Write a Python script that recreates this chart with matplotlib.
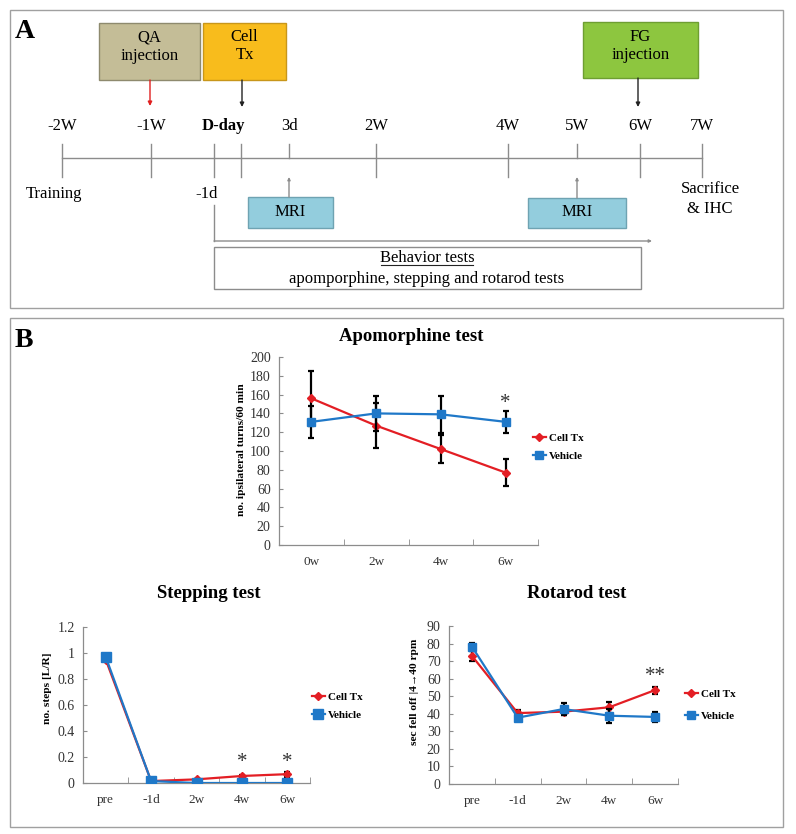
"""
Timeline diagram (A) and behaviour test line charts (B), Cell Tx vs Vehicle.
"""

import matplotlib
matplotlib.use("Agg")
import matplotlib.pyplot as plt
import numpy as np
from matplotlib.patches import Rectangle

plt.rcParams["font.family"] = ["Liberation Serif", "DejaVu Serif"]

W, H = 796, 834

# ── Data ──────────────────────────────────────────────────────────────────────
apo_labels = ["0w", "2w", "4w", "6w"]
apo_cell = [156, 127, 102, 77]
apo_cell_err = [29, 24, 15, 14]
apo_veh = [131, 140, 139, 131]
apo_veh_err = [17, 19, 20, 12]
apo_sig = ["", "", "", "*"]

step_labels = ["pre", "-1d", "2w", "4w", "6w"]
step_cell = [0.95, 0.015, 0.028, 0.054, 0.068]
step_cell_err = [0.01, 0.005, 0.005, 0.01, 0.02]
step_veh = [0.97, 0.015, 0.0, 0.0, 0.0]
step_veh_err = [0.01, 0.005, 0.0, 0.0, 0.0]
step_sig = ["", "", "", "*", "*"]

rota_labels = ["pre", "-1d", "2w", "4w", "6w"]
rota_cell = [73, 40.4, 41.2, 43.7, 53.5]
rota_cell_err = [3, 1.5, 2, 3, 2]
rota_veh = [78.3, 37.8, 42.7, 38.9, 38.2]
rota_veh_err = [2, 1.5, 3.5, 4, 3]
rota_sig = ["", "", "", "", "**"]

# timeline (panel A) — schematic, so laid out in pixel units
tl_labels = ["-2W", "-1W", "D-day", "3d", "2W", "4W", "5W", "6W", "7W"]
tl_label_x = [62, 151, 223, 289, 376, 508, 577, 640, 702]
tl_tick_x = [62, 151, 214, 241, 289, 376, 508, 577, 640, 702]

RED = "#E31E24"
BLUE = "#1F78C8"
GRID = "#8C8C8C"
FS = 12


def add_ax(fig, l, t, r, b):
    return fig.add_axes([l / W, 1 - b / H, (r - l) / W, (b - t) / H])


fig = plt.figure(figsize=(W / 100, H / 100), dpi=100)

# ── Panel A: overlay in pixel coords ─────────────────────────────────────────
ov = fig.add_axes([0, 0, 1, 1])
ov.set_xlim(0, W)
ov.set_ylim(H, 0)
ov.axis("off")

for (x0, y0, x1, y1) in [(10, 10, 783, 308), (10, 318, 783, 827)]:
    ov.add_patch(Rectangle((x0, y0), x1 - x0, y1 - y0, fill=False,
                           edgecolor="#A0A0A0", lw=1))
ov.text(15, 31, "A", fontsize=20, fontweight="bold", va="center")
ov.text(15, 340, "B", fontsize=20, fontweight="bold", va="center")

boxes = [
    (99, 23, 200, 80, "#C4BD97", "#8E8A6E", "QA\ninjection", 47),
    (203, 23, 286, 80, "#F8BC1C", "#C8961A", "Cell\nTx", 46),
    (583, 22, 698, 78, "#8DC63F", "#6E9E32", "FG\ninjection", 46),
    (248, 197, 333, 228, "#93CDDD", "#6FA3B2", "MRI", 212),
    (528, 198, 626, 228, "#93CDDD", "#6FA3B2", "MRI", 212),
]
for x0, y0, x1, y1, fc, ec, txt, ty in boxes:
    ov.add_patch(Rectangle((x0, y0), x1 - x0, y1 - y0, facecolor=fc,
                           edgecolor=ec, lw=1))
    ov.text((x0 + x1) / 2, ty, txt, ha="center", va="center",
            fontsize=FS, linespacing=1.2)

# arrows from boxes down to the timeline labels
for x, y0, y1, c in [(150, 80, 106, "#E02020"), (242, 80, 107, "#222222"),
                     (638, 78, 107, "#222222")]:
    ov.annotate("", xy=(x, y1), xytext=(x, y0),
                arrowprops=dict(arrowstyle="-|>", color=c, lw=1,
                                mutation_scale=6, shrinkA=0, shrinkB=0))

# timeline
ov.plot([tl_tick_x[0], tl_tick_x[-1]], [158, 158], color=GRID, lw=1)
for x in tl_tick_x:
    if x in (289, 577):
        ov.plot([x, x], [144, 158], color=GRID, lw=1)
        ov.annotate("", xy=(x, 177), xytext=(x, 197 if x == 289 else 198),
                    arrowprops=dict(arrowstyle="-|>", color=GRID, lw=1,
                                    mutation_scale=4, shrinkA=0, shrinkB=0))
    else:
        ov.plot([x, x], [144, 177], color=GRID, lw=1)
for lab, x in zip(tl_labels, tl_label_x):
    ov.text(x, 126, lab, ha="center", va="center", fontsize=FS,
            fontweight="bold" if lab == "D-day" else "normal")

ov.text(54, 194, "Training", ha="center", va="center", fontsize=FS)
ov.text(207, 194, "-1d", ha="center", va="center", fontsize=FS)
ov.text(710, 199, "Sacrifice\n& IHC", ha="center", va="center",
        fontsize=FS, linespacing=1.3)

# behaviour test period
ov.plot([214, 214], [205, 241], color=GRID, lw=1)
ov.annotate("", xy=(652, 241), xytext=(214, 241),
            arrowprops=dict(arrowstyle="-|>", color=GRID, lw=1,
                            mutation_scale=4, shrinkA=0, shrinkB=0))
ov.add_patch(Rectangle((214, 247), 427, 42, fill=False, edgecolor=GRID, lw=1))
ov.text(427, 258, "Behavior tests", ha="center", va="center", fontsize=FS)
ov.plot([381, 473], [265, 265], color="#222222", lw=0.8)
ov.text(427, 279, "apomporphine, stepping and rotarod tests",
        ha="center", va="center", fontsize=FS)


# ── Panel B: line charts ─────────────────────────────────────────────────────
def line_chart(ax, labels, cell, cell_err, veh, veh_err, sig, ylim, ystep,
               fmt, ylabel, ylab_xy, title, title_xy, sig_y, leg_xy, leg_gap,
               msize):
    x = np.arange(len(labels))
    ax.set_facecolor("none")
    ax.errorbar(x, cell, yerr=cell_err, color=RED, ecolor="black",
                marker="D", markersize=msize[0], lw=1.6, elinewidth=1.6,
                capsize=2.5, capthick=1.6, label="Cell Tx", zorder=3)
    ax.errorbar(x, veh, yerr=veh_err, color=BLUE, ecolor="black",
                marker="s", markersize=msize[1], lw=1.6, elinewidth=1.6,
                capsize=2.5, capthick=1.6, label="Vehicle", zorder=4)
    for xi, s in zip(x, sig):
        if s:
            ax.text(xi, sig_y, s, ha="center", va="center", fontsize=15,
                    color="#333333")
    ax.set_xlim(-0.5, len(labels) - 0.5)
    ax.set_ylim(*ylim)
    ax.set_yticks(np.arange(ylim[0], ylim[1] + ystep / 2, ystep))
    ax.yaxis.set_major_formatter(plt.FuncFormatter(fmt))
    ax.set_xticks(x, labels)
    ax.set_xticks(np.arange(-0.5, len(labels)), minor=True)
    ax.tick_params(axis="x", which="major", length=0, labelsize=9.5,
                   pad=8, labelcolor="#333333")
    ax.tick_params(axis="x", which="minor", direction="in", length=4,
                   color=GRID)
    ax.tick_params(axis="y", direction="in", length=3, color=GRID,
                   labelsize=10, pad=6, labelcolor="#333333")
    for side in ("top", "right"):
        ax.spines[side].set_visible(False)
    for side in ("left", "bottom"):
        ax.spines[side].set_color(GRID)
        ax.spines[side].set_linewidth(0.9)
    fig.text(ylab_xy[0] / W, 1 - ylab_xy[1] / H, ylabel, rotation=90,
             ha="center", va="center", fontsize=8.2, fontweight="bold")
    fig.text(title_xy[0] / W, 1 - title_xy[1] / H, title, ha="center",
             va="center", fontsize=13.5, fontweight="bold")
    handles, labs = ax.get_legend_handles_labels()
    handles = [h[0] for h in handles]
    ax.legend(handles, labs, loc="center left",
              bbox_to_anchor=(leg_xy[0] / W, 1 - leg_xy[1] / H),
              bbox_transform=fig.transFigure, frameon=False, borderpad=0,
              borderaxespad=0, handlelength=1.15, handletextpad=0.3,
              labelspacing=leg_gap, prop={"weight": "bold", "size": 8})


ax1 = add_ax(fig, 279, 357, 538, 545)
line_chart(ax1, apo_labels, apo_cell, apo_cell_err, apo_veh, apo_veh_err,
           apo_sig, (0, 200), 20, lambda v, p: f"{v:.0f}",
           "no. ipsilateral turns/60 min", (242, 450), "Apomorphine test",
           (411, 337), 151, (533, 447), 0.8, (4.5, 5.5))

ax2 = add_ax(fig, 83, 627, 310, 783)
line_chart(ax2, step_labels, step_cell, step_cell_err, step_veh, step_veh_err,
           step_sig, (0, 1.2), 0.2, lambda v, p: f"{v:g}" if v else "0",
           "no. steps [L/R]", (47, 688), "Stepping test", (209, 594), 0.16,
           (312, 706), 0.8, (4, 6.5))

ax3 = add_ax(fig, 449, 626, 678, 784)
line_chart(ax3, rota_labels, rota_cell, rota_cell_err, rota_veh, rota_veh_err,
           rota_sig, (0, 90), 10, lambda v, p: f"{v:.0f}",
           "sec fell off |4\u219240 rpm", (415, 692), "Rotarod test",
           (577, 593), 61, (685, 705), 1.15, (4.5, 5.5))

fig.savefig("out.png", dpi=100)
